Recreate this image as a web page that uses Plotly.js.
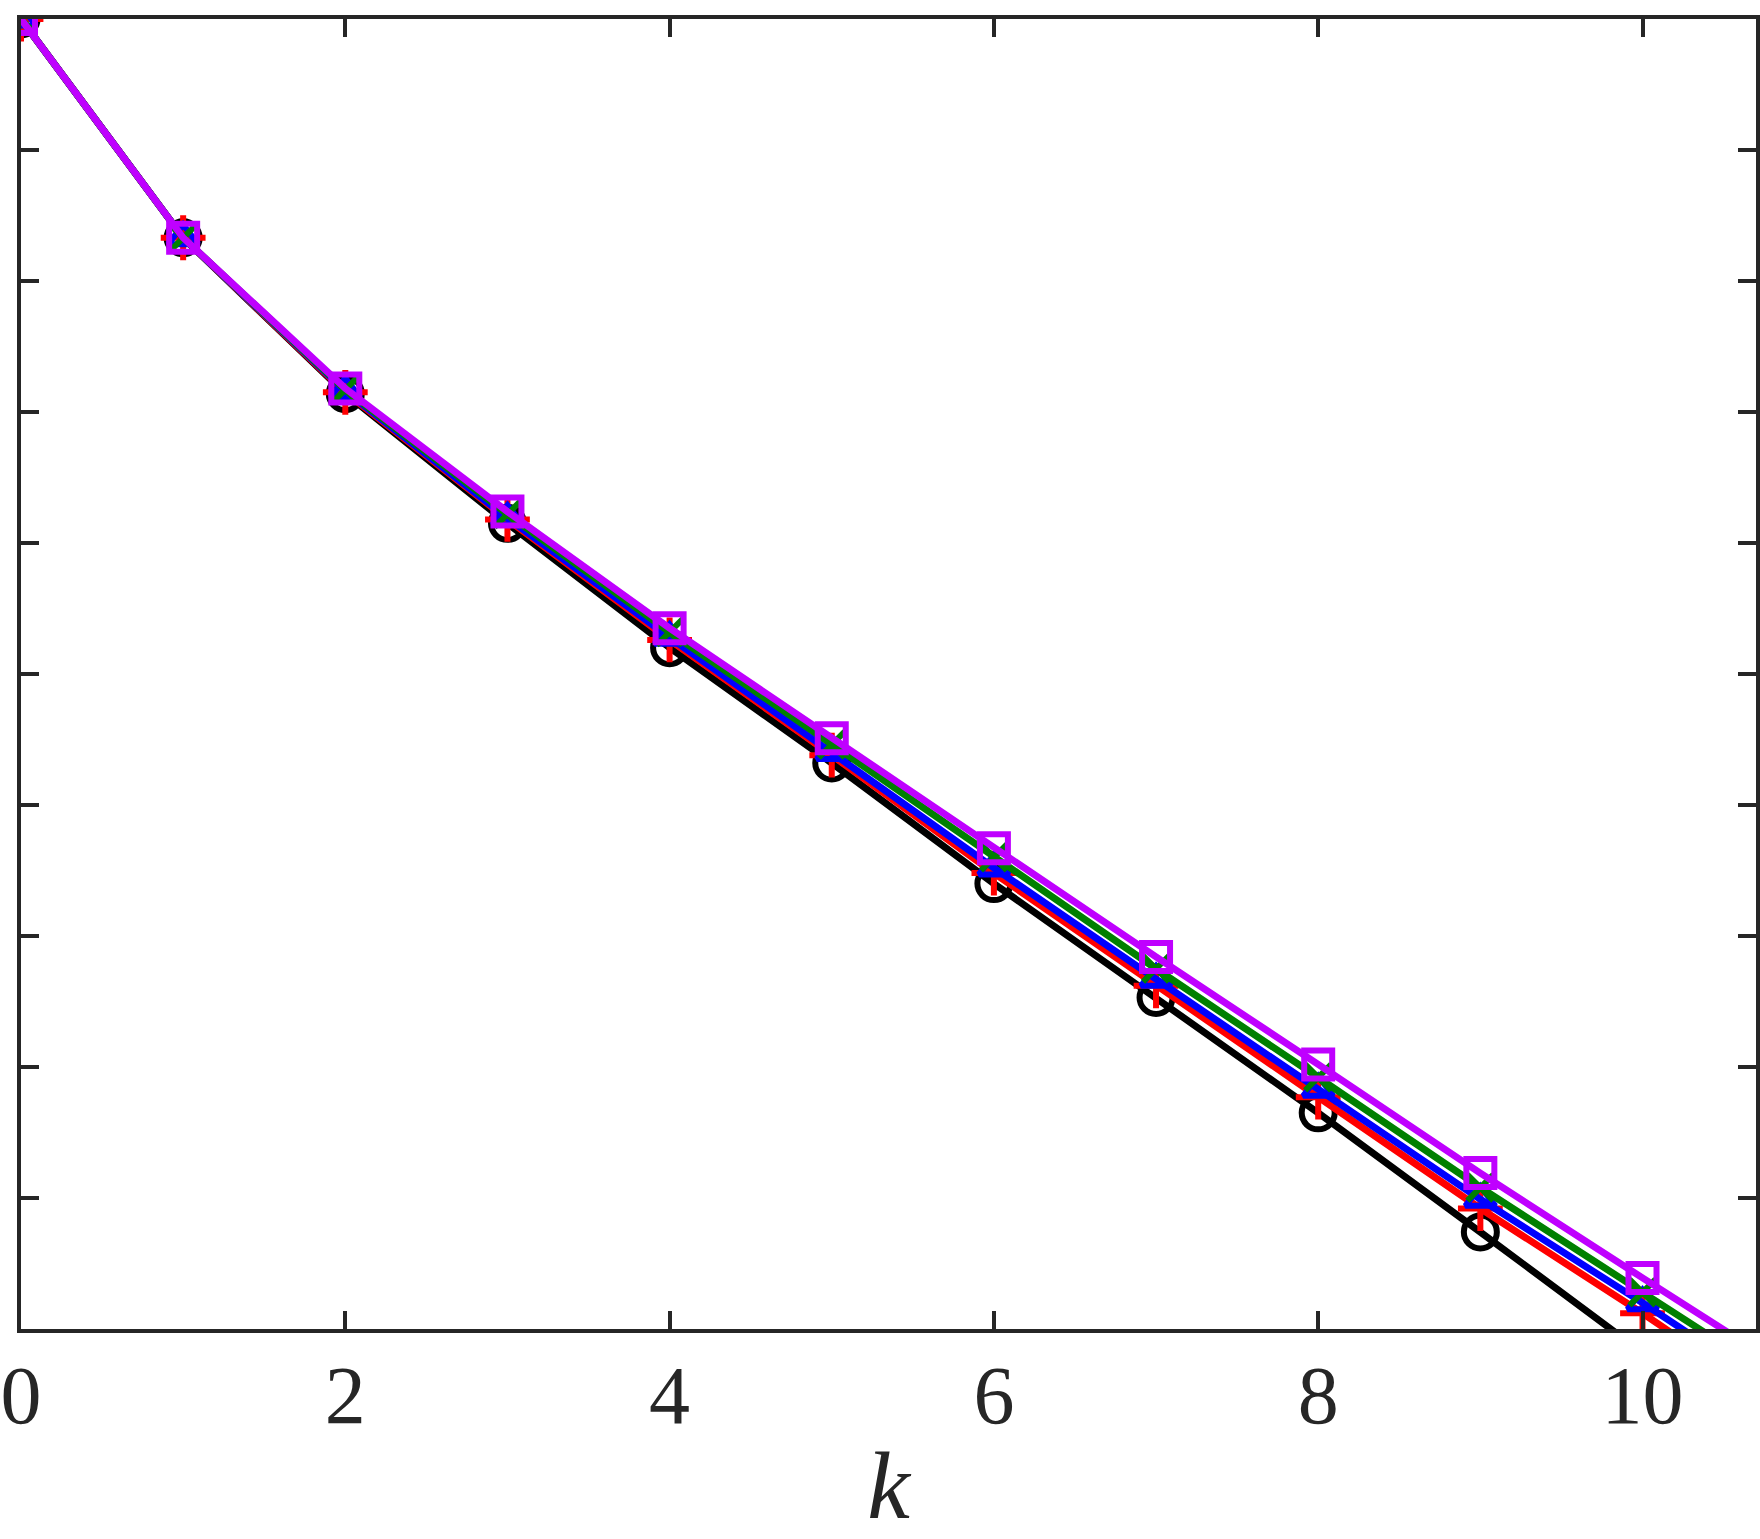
<!DOCTYPE html>
<html>
<head>
<meta charset="utf-8">
<script src="https://cdn.plot.ly/plotly-3.0.1.min.js"></script>
<style>html,body{margin:0;padding:0;background:#fff;}#chart{width:1760px;height:1539px;}</style>
</head>
<body>
<div id="chart"></div>
<script>
// iteration index
const k = [0, 1, 2, 3, 4, 5, 6, 7, 8, 9, 10, 11];
// log10 of the error for each series
const expBlack  = [0, -1.67, -2.86, -3.85, -4.80, -5.68, -6.60, -7.47, -8.35, -9.26, -10.18, -11.10];
const expRed    = [0, -1.67, -2.85, -3.82, -4.74, -5.62, -6.52, -7.38, -8.23, -9.08, -9.88, -10.72];
const expBlue   = [0, -1.67, -2.84, -3.81, -4.72, -5.60, -6.48, -7.33, -8.17, -9.01, -9.80, -10.62];
const expGreen  = [0, -1.67, -2.83, -3.78, -4.68, -5.54, -6.40, -7.25, -8.08, -8.92, -9.72, -10.52];
const expPurple = [0, -1.67, -2.82, -3.76, -4.65, -5.49, -6.33, -7.16, -7.98, -8.81, -9.61, -10.40];
const xTicks = [0, 2, 4, 6, 8, 10];

const series = [
  {e: expBlack,  color: '#000000', symbol: 'circle-open',      size: 33},
  {e: expRed,    color: '#ff0000', symbol: 'cross-thin-open',  size: 32},
  {e: expBlue,   color: '#0000ff', symbol: 'triangle-up-open', size: 26},
  {e: expGreen,  color: '#008000', symbol: 'x-thin-open',      size: 26},
  {e: expPurple, color: '#bf00ff', symbol: 'square-open',      size: 28}
];

const traces = series.map(s => ({
  x: k,
  y: s.e.map(v => Math.pow(10, v)),
  type: 'scatter',
  mode: 'lines+markers',
  line: {color: s.color, width: 7},
  marker: {symbol: s.symbol, size: s.size, color: s.color, line: {color: s.color, width: 6}},
  showlegend: false,
  cliponaxis: true
}));

const axisCommon = {
  showline: true, linecolor: '#262626', linewidth: 4, mirror: 'allticks',
  ticks: 'inside', ticklen: 18, tickwidth: 4, tickcolor: '#262626',
  showgrid: false, zeroline: false
};

const layout = {
  width: 1760, height: 1539,
  margin: {l: 21, r: 4, t: 19, b: 210},
  paper_bgcolor: '#ffffff', plot_bgcolor: '#ffffff',
  xaxis: Object.assign({}, axisCommon, {
    range: [0, 10.70],
    tickmode: 'array', tickvals: xTicks, ticktext: xTicks.map(String),
    tickfont: {family: 'Liberation Serif, serif', size: 82, color: '#262626'},
    ticklabelstandoff: -8,
    title: {text: '<i>k</i>', font: {family: 'Liberation Serif, serif', size: 96, color: '#262626'}, standoff: 24}
  }),
  yaxis: Object.assign({}, axisCommon, {
    type: 'log', range: [-10, 0], dtick: 1,
    showticklabels: false
  })
};

Plotly.newPlot('chart', traces, layout, {staticPlot: true, displayModeBar: false});
</script>
</body>
</html>
